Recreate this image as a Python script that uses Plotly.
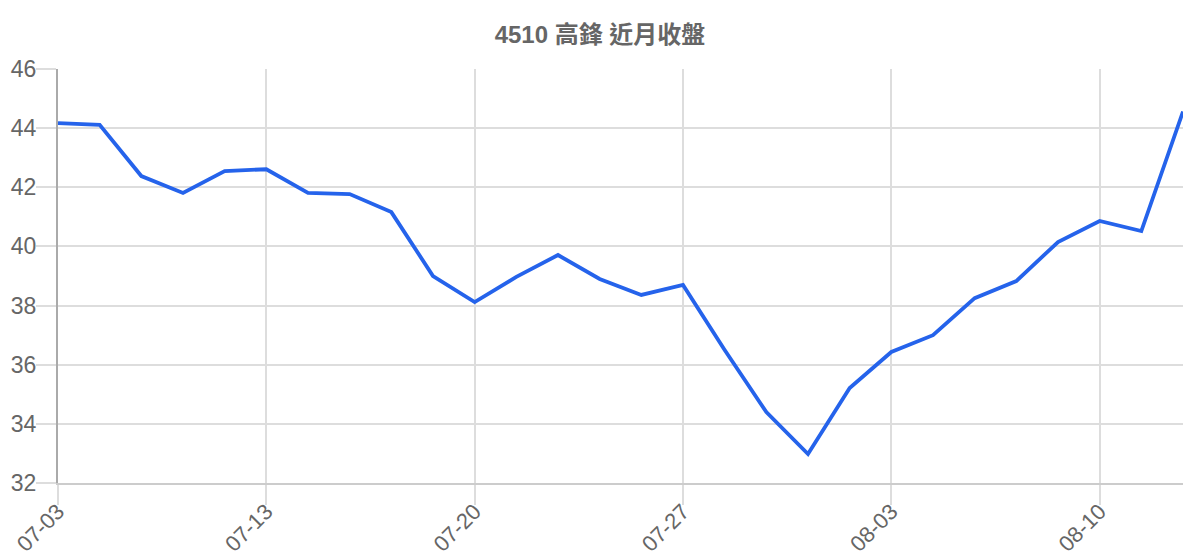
import plotly.graph_objects as go

# trading days (MM-DD) and closing prices
dates = [
    "07-03", "07-07", "07-08", "07-09", "07-10",
    "07-13", "07-14", "07-15", "07-16", "07-17",
    "07-20", "07-21", "07-22", "07-23", "07-24",
    "07-27", "07-28", "07-29", "07-30", "07-31",
    "08-03", "08-04", "08-05", "08-06", "08-07",
    "08-10", "08-11", "08-12",
]
close = [
    44.17, 44.11, 42.38, 41.81, 42.55,
    42.61, 41.81, 41.77, 41.16, 39.00,
    38.12, 38.97, 39.71, 38.90, 38.36,
    38.70, 36.50, 34.40, 32.98, 35.21,
    36.43, 37.00, 38.25, 38.83, 40.15,
    40.86, 40.52, 44.56,
]
tick_labels = ["07-03", "07-13", "07-20", "07-27", "08-03", "08-10"]
y_ticks = [32, 34, 36, 38, 40, 42, 44, 46]

font_family = "Liberation Sans, Arial, Noto Sans CJK TC, sans-serif"

fig = go.Figure()

fig.add_trace(
    go.Scatter(
        x=dates,
        y=close,
        mode="lines",
        line=dict(color="#2563eb", width=3.8),
        hoverinfo="x+y",
    )
)

# page body adds an 8px offset, margins are set to compensate
fig.update_layout(
    width=1200,
    height=560,
    paper_bgcolor="white",
    plot_bgcolor="white",
    showlegend=False,
    margin=dict(l=50, r=25, t=61, b=85),
    font=dict(family=font_family, color="#666666"),
    title=dict(
        text="<b>4510 高鋒 近月收盤</b>",
        x=592 / 1200,
        xanchor="center",
        y=1 - 27 / 560,
        yanchor="middle",
        font=dict(size=24, color="#666666", family=font_family),
    ),
)

fig.update_xaxes(
    type="category",
    categoryorder="array",
    categoryarray=dates,
    range=[0, len(dates) - 1],
    tickvals=tick_labels,
    ticktext=tick_labels,
    tickangle=-45,
    ticks="outside",
    ticklen=20,
    tickcolor="#dddddd",
    tickwidth=1.5,
    tickfont=dict(size=22, color="#666666"),
    ticklabelstandoff=-15,
    showgrid=True,
    gridcolor="#dddddd",
    gridwidth=1.5,
    showline=True,
    linecolor="#cccccc",
    linewidth=2,
    zeroline=False,
    automargin=False,
)

fig.update_yaxes(
    range=[32, 46],
    tickvals=y_ticks,
    ticks="outside",
    ticklen=20,
    tickcolor="#dddddd",
    tickwidth=1.5,
    tickfont=dict(size=23, color="#666666"),
    ticklabelstandoff=-5,
    showgrid=True,
    gridcolor="#dddddd",
    gridwidth=1.5,
    showline=True,
    linecolor="#aaaaaa",
    linewidth=2,
    zeroline=False,
    automargin=False,
)

fig.write_html("out.html")
